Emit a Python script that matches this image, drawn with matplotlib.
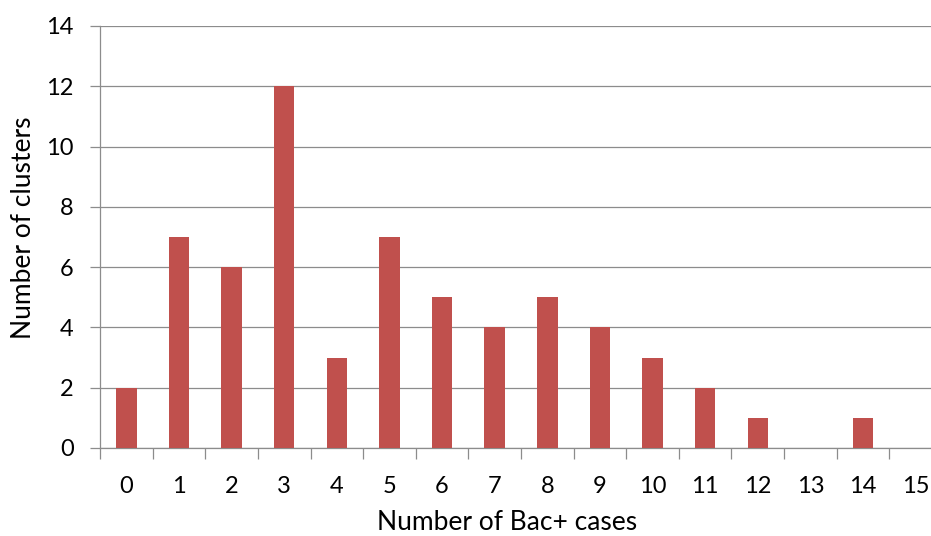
import numpy as np
import matplotlib.pyplot as plt
from matplotlib.ticker import MultipleLocator

# clusters per number of bacteriologically positive cases
cases = list(range(16))
clusters = [2, 7, 6, 12, 3, 7, 5, 4, 5, 4, 3, 2, 1, 0, 1, 0]

plt.rcParams['font.family'] = ['Lato', 'DejaVu Sans']

fig = plt.figure(figsize=(9.31, 5.36), dpi=100)
W, H = 931, 536
# plot area runs a little past the right edge of the figure
ax = fig.add_axes([100 / W, 88 / H, 842 / W, 422 / H])

x = np.arange(len(cases))
ax.bar(x, clusters, width=0.39, color='#C0504D', zorder=3)

ax.set_xlim(-0.5, len(cases) - 0.5)
ax.set_ylim(0, 14)
ax.yaxis.set_major_locator(MultipleLocator(2))
ax.grid(axis='y', color='#8c8c8c', lw=0.9, zorder=0)

ax.set_xticks(x)
ax.set_xticklabels([str(c) for c in cases])
ax.set_xticks(np.arange(-0.5, len(cases)), minor=True)
ax.tick_params(axis='x', which='major', length=0, pad=20, labelsize=17, colors='#000000')
ax.tick_params(axis='x', which='minor', length=8, width=0.9, color='#8c8c8c')
ax.tick_params(axis='y', length=7, width=0.9, color='#8c8c8c', pad=12, labelsize=17)

for s in ['top', 'right']:
    ax.spines[s].set_visible(False)
for s in ['left', 'bottom']:
    ax.spines[s].set_color('#8c8c8c')
    ax.spines[s].set_linewidth(0.9)

ax.set_xlabel('Number of Bac+ cases', fontsize=19)
ax.set_ylabel('Number of clusters', fontsize=19)
ax.xaxis.set_label_coords((507 - 100) / 842, -(510 - 448) / 422, transform=ax.transAxes)
ax.yaxis.set_label_coords(-(100 - 36) / 842, (448 - 228) / 422, transform=ax.transAxes)

plt.savefig('out.png', dpi=100)
